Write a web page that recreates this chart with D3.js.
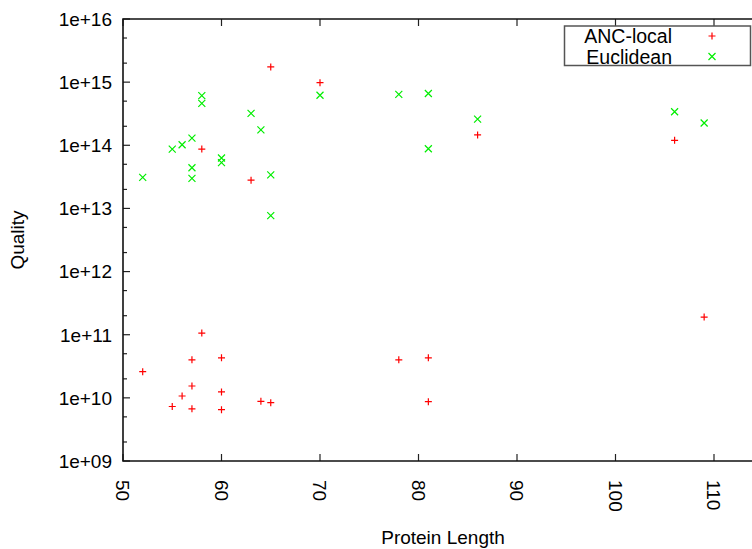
<!DOCTYPE html>
<html>
<head>
<meta charset="utf-8">
<script src="https://cdn.jsdelivr.net/npm/d3@7"></script>
<style>
  body { margin: 0; background: #fff; }
  svg { display: block; font-family: "Liberation Sans", Arial, sans-serif; }
</style>
</head>
<body>
<div id="chart"></div>
<script>
// ANC-local (red +)
const ancLength = [52, 55, 56, 57, 57, 57, 58, 58, 60, 60, 60, 63, 64, 65, 65, 70, 78, 81, 81, 86, 106, 109];
const ancQuality = [2.6e10, 7.3e9, 1.07e10, 4.0e10, 1.54e10, 6.7e9, 8.7e13, 1.06e11, 4.3e10, 1.24e10, 6.5e9,
    2.8e13, 8.8e9, 1.74e15, 8.4e9, 9.8e14, 4.0e10, 4.3e10, 8.7e9, 1.46e14, 1.2e14, 1.9e11];

// Euclidean (green x)
const eucLength = [52, 55, 56, 57, 57, 57, 58, 58, 60, 60, 63, 64, 65, 65, 70, 78, 81, 81, 86, 106, 109];
const eucQuality = [3.1e13, 8.7e13, 1.02e14, 1.3e14, 4.4e13, 3.0e13, 6.1e14, 4.6e14, 6.3e13, 5.3e13,
    3.2e14, 1.75e14, 3.4e13, 7.7e12, 6.2e14, 6.4e14, 6.6e14, 8.8e13, 2.6e14, 3.4e14, 2.25e14];

const xTicks = [50, 60, 70, 80, 90, 100, 110];
const yTicks = [1e9, 1e10, 1e11, 1e12, 1e13, 1e14, 1e15, 1e16];
const seriesNames = ["ANC-local", "Euclidean"];

const width = 752, height = 549;
const mLeft = 123, mTop = 19, mBottom = 461;
const red = "#ff0000", green = "#00ee00";

const svg = d3.select("#chart").append("svg")
    .attr("width", width)
    .attr("height", height);

const x = d3.scaleLinear().domain([50, 115]).range([mLeft, mLeft + 65 * 9.85]);
const y = d3.scaleLog().domain([1e9, 1e16]).range([mBottom, mTop]);

const fmt = v => "1e+" + String(Math.round(Math.log10(v))).padStart(2, "0");

// minor ticks at 2 and 5 of each decade
const minor = [];
yTicks.slice(0, -1).forEach(t => { minor.push(t * 2, t * 5); });

const g = svg.append("g");

// y ticks (inward)
g.selectAll(".ymaj").data(yTicks).enter().append("line")
    .attr("x1", mLeft).attr("x2", mLeft + 7)
    .attr("y1", d => y(d)).attr("y2", d => y(d))
    .attr("stroke", "#222").attr("stroke-width", 1.2);
g.selectAll(".ymin").data(minor).enter().append("line")
    .attr("x1", mLeft).attr("x2", mLeft + 4)
    .attr("y1", d => y(d)).attr("y2", d => y(d))
    .attr("stroke", "#222").attr("stroke-width", 1.2);
g.selectAll(".ylab").data(yTicks).enter().append("text")
    .attr("x", mLeft - 11)
    .attr("y", d => y(d))
    .attr("dy", "0.36em")
    .attr("text-anchor", "end")
    .attr("font-size", 19)
    .text(fmt);

// x ticks on bottom and top (inward)
g.selectAll(".xb").data(xTicks).enter().append("line")
    .attr("x1", d => x(d)).attr("x2", d => x(d))
    .attr("y1", mBottom).attr("y2", mBottom - 7)
    .attr("stroke", "#222").attr("stroke-width", 1.2);
g.selectAll(".xt").data(xTicks).enter().append("line")
    .attr("x1", d => x(d)).attr("x2", d => x(d))
    .attr("y1", mTop).attr("y2", mTop + 7)
    .attr("stroke", "#222").attr("stroke-width", 1.2);
g.selectAll(".xlab").data(xTicks).enter().append("text")
    .attr("transform", d => `translate(${x(d)},480) rotate(90)`)
    .attr("dy", "0.36em")
    .attr("font-size", 19)
    .text(d => d);

// axes frame (left, top, bottom)
g.append("path")
    .attr("d", `M${width},${mTop}H${mLeft}V${mBottom}H${width}`)
    .attr("fill", "none")
    .attr("stroke", "#111")
    .attr("stroke-width", 1.6);

// axis titles
svg.append("text")
    .attr("x", 443).attr("y", 544)
    .attr("text-anchor", "middle")
    .attr("font-size", 19)
    .text("Protein Length");
svg.append("text")
    .attr("transform", `translate(24,${(mTop + mBottom) / 2}) rotate(-90)`)
    .attr("text-anchor", "middle")
    .attr("font-size", 19)
    .text("Quality");

// markers
const plus = (sel, color) => sel.append("path")
    .attr("d", "M-3.5,0H3.5M0,-3.5V3.5")
    .attr("stroke", color).attr("stroke-width", 1.2).attr("fill", "none");
const cross = (sel, color) => sel.append("path")
    .attr("d", "M-3.5,-3.5L3.5,3.5M-3.5,3.5L3.5,-3.5")
    .attr("stroke", color).attr("stroke-width", 1.2).attr("fill", "none");

const ancPts = ancLength.map((l, i) => ({ l, q: ancQuality[i] }));
const eucPts = eucLength.map((l, i) => ({ l, q: eucQuality[i] }));

const ancG = svg.append("g").selectAll("g").data(ancPts).enter().append("g")
    .attr("transform", d => `translate(${x(d.l)},${y(d.q)})`);
plus(ancG, red);

const eucG = svg.append("g").selectAll("g").data(eucPts).enter().append("g")
    .attr("transform", d => `translate(${x(d.l)},${y(d.q)})`);
cross(eucG, green);

// legend
const leg = svg.append("g");
leg.append("rect")
    .attr("x", 564.5).attr("y", 26)
    .attr("width", 186).attr("height", 39.5)
    .attr("fill", "#fff")
    .attr("stroke", "#555").attr("stroke-width", 1.5);
seriesNames.forEach((name, i) => {
    const cy = 36 + i * 20.5;
    leg.append("text")
        .attr("x", 672).attr("y", cy)
        .attr("dy", "0.36em")
        .attr("text-anchor", "end")
        .attr("font-size", 19.5)
        .text(name);
    const m = leg.append("g").attr("transform", `translate(712,${cy})`);
    if (i === 0) plus(m, red); else cross(m, green);
});
</script>
</body>
</html>
